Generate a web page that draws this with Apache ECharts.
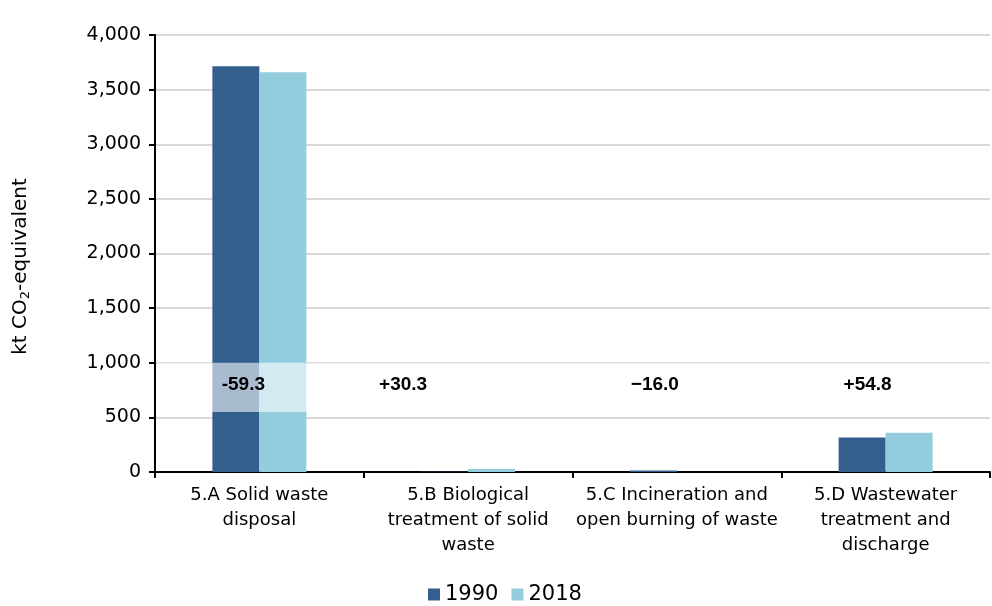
<!DOCTYPE html>
<html>
<head>
<meta charset="utf-8">
<script src="https://cdn.jsdelivr.net/npm/echarts@6/dist/echarts.min.js"></script>
<style>
html,body{margin:0;padding:0;background:#fff;}
#chart{width:992px;height:606px;}
</style>
</head>
<body>
<div id="chart"></div>
<script>
const categories = [
  "5.A Solid waste\ndisposal",
  "5.B Biological\ntreatment of solid\nwaste",
  "5.C Incineration and\nopen burning of waste",
  "5.D Wastewater\ntreatment and\ndischarge"
];
const series1990 = [3715, 2, 13, 315];
const series2018 = [3660, 27, 1, 360];
const changeLabels = ["-59.3", "+30.3", "\u221216.0", "+54.8"];
const labelLevel = 800;
const bandRange = [550, 1000];
const yTicks = [0, 500, 1000, 1500, 2000, 2500, 3000, 3500, 4000];

const chart = echarts.init(document.getElementById('chart'), null, {renderer: 'canvas'});
const font = 'DejaVu Sans';
const labelOffsets = [[-16, 0], [-65, 0], [-22, 0], [-18, 0]];

chart.setOption({
  animation: false,
  backgroundColor: '#ffffff',
  grid: {left: 155, right: 2, top: 35, bottom: 134, containLabel: false},
  legend: {
    data: ['1990', '2018'],
    top: 579,
    left: 423,
    itemWidth: 12,
    itemHeight: 12,
    itemGap: 13,
    icon: 'rect',
    textStyle: {fontFamily: font, fontSize: 21, color: '#000'}
  },
  xAxis: {
    type: 'category',
    data: categories,
    axisLine: {lineStyle: {color: '#000', width: 2}},
    axisTick: {show: true, alignWithLabel: false, length: 6, lineStyle: {color: '#000', width: 2}},
    axisLabel: {fontFamily: font, fontSize: 18, color: '#000', lineHeight: 25, margin: 11, interval: 0}
  },
  yAxis: {
    type: 'value',
    min: 0, max: 4000, interval: 500,
    name: '{a|kt CO}{s|2}{a|-equivalent}',
    nameLocation: 'middle',
    nameGap: 123,
    nameRotate: 90,
    nameTextStyle: {
      padding: [0, 26, 0, 0],
      rich: {
        a: {fontFamily: font, fontSize: 20, color: '#000'},
        s: {fontFamily: font, fontSize: 13, color: '#000', verticalAlign: 'bottom', padding: [9, 0, 0, 0]}
      }
    },
    axisLine: {show: true, lineStyle: {color: '#000', width: 2}},
    axisTick: {show: true, inside: false, length: 6, lineStyle: {color: '#000', width: 2}},
    axisLabel: {fontFamily: font, fontSize: 19, color: '#000', margin: 14,
      formatter: v => yTicks.includes(v) ? v.toLocaleString('en-US') : ''},
    splitLine: {lineStyle: {color: '#d9d9d9', width: 2}}
  },
  series: [
    {
      name: '1990', type: 'bar', data: series1990,
      barWidth: 47, barGap: '0%',
      itemStyle: {color: '#345e8e'}, z: 2
    },
    {
      name: '2018', type: 'bar', data: series2018,
      barWidth: 47, barGap: '0%',
      itemStyle: {color: '#93cddd'}, z: 2
    },
    {
      name: 'band', type: 'custom', z: 5, silent: true,
      data: [bandRange],
      renderItem: function (params, api) {
        const cs = params.coordSys;
        const yLow = api.coord([0, api.value(0)])[1];
        const yHigh = api.coord([0, api.value(1)])[1];
        return {
          type: 'rect',
          shape: {x: cs.x + 2, y: yHigh, width: cs.width - 2, height: yLow - yHigh},
          style: {fill: 'rgba(255,255,255,0.58)'}
        };
      },
      encode: {y: [0, 1]}
    },
    {
      name: 'change', type: 'scatter', z: 10,
      symbolSize: 0,
      silent: true,
      itemStyle: {opacity: 1},
      data: changeLabels.map((t, i) => ({
        value: [i, labelLevel],
        label: {show: true, formatter: t, position: 'inside', offset: labelOffsets[i],
          fontFamily: 'Liberation Sans', fontWeight: 'bold', fontSize: 19, color: '#000', opacity: 1}
      }))
    }
  ]
});
</script>
</body>
</html>
